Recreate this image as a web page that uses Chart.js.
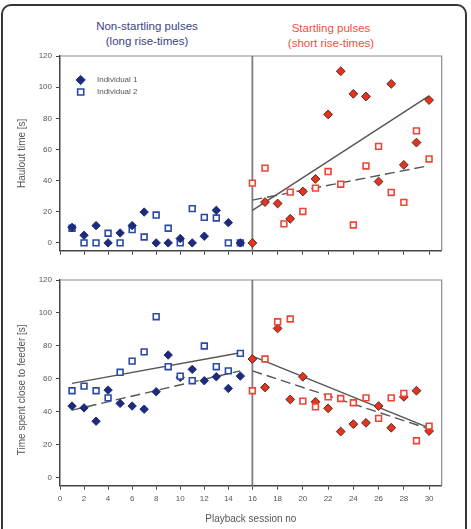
<!DOCTYPE html>
<html>
<head>
<meta charset="utf-8">
<script src="https://cdn.jsdelivr.net/npm/chart.js@4.4.1/dist/chart.umd.min.js"></script>
<style>
    html, body { margin: 0; padding: 0; background: #fff; }
    #wrap { position: relative; width: 471px; height: 529px; overflow: hidden; font-family: "Liberation Sans", Arial, sans-serif; }
    #frame { position: absolute; left: 1px; top: 4px; width: 462px; height: 600px; border: 2px solid #363636; border-radius: 10px; }
    .cap { position: absolute; font-size: 11.5px; line-height: 15px; text-align: center; white-space: nowrap; }
    #capNon { left: 77px; top: 19px; width: 140px; color: #3b3f86; }
    #capStart { left: 261px; top: 21px; width: 140px; color: #f0503c; }
    canvas { position: absolute; left: 0; }
    #haulChart { top: 0; }
    #feedChart { top: 265px; }
</style>
</head>
<body>
<div id="wrap">
    <div id="frame"></div>
    <div class="cap" id="capNon">Non-startling pulses<br>(long rise-times)</div>
    <div class="cap" id="capStart">Startling pulses<br>(short rise-times)</div>
    <canvas id="haulChart" width="471" height="265"></canvas>
    <canvas id="feedChart" width="471" height="264"></canvas>
</div>
<script>
// Playback sessions
const sessionsNon = [1, 2, 3, 4, 5, 6, 7, 8, 9, 10, 11, 12, 13, 14, 15];
const sessionsStart = [16, 17, 18, 19, 20, 21, 22, 23, 24, 25, 26, 27, 28, 29, 30];
const sessionsStartHaulInd2 = [16, 17, 18.5, 19, 20, 21, 22, 23, 24, 25, 26, 27, 28, 29, 30];

// Haulout time [s]
const haulInd1Non = [10.0, 4.9, 11.1, 0, 6.4, 11.1, 19.8, 0, 0, 2.8, 0, 4.3, 20.9, 13.0, 0];
const haulInd2Non = [9.4, 0, 0, 6.2, 0, 8.5, 3.8, 17.9, 9.4, 0, 22.0, 16.4, 16.0, 0, 0];
const haulInd1Start = [0, 26.2, 25.3, 15.5, 33.0, 41.1, 82.5, 110.2, 95.7, 94.0, 39.4, 102.1, 50.1, 64.4, 91.7];
const haulInd2Start = [38.4, 48.0, 12.2, 32.6, 20.2, 35.2, 45.8, 37.7, 11.5, 49.4, 62.0, 32.4, 26.0, 71.9, 53.9];

// Time spent close to feeder [s]
const feedInd1Non = [43.4, 42.3, 34.2, 53.1, 45.0, 43.4, 41.5, 52.1, 74.4, 60.8, 65.7, 58.8, 61.2, 54.1, 61.6];
const feedInd2Non = [52.7, 55.5, 52.7, 48.4, 63.9, 70.7, 76.3, 97.7, 67.3, 61.6, 58.8, 79.9, 67.3, 64.8, 75.4];
const feedInd1Start = [72.0, 54.7, 90.6, 47.4, 61.2, 46.0, 42.0, 27.9, 32.4, 33.2, 43.4, 30.2, 49.0, 52.7, 28.2];
const feedInd2Start = [52.7, 72.0, 94.6, 96.3, 46.4, 42.9, 49.0, 48.0, 45.4, 48.4, 35.9, 48.4, 51.1, 22.3, 31.2];

// Trend lines: [session, value] end points
const haulFitSolid = [[16, 20.9], [30, 94.4]];
const haulFitDashed = [[16, 27.5], [30, 49.6]];
const feedFitSolidNon = [[1, 57.2], [15, 75.8]];
const feedFitDashedNon = [[1, 40.9], [15, 64.8]];
const feedFitSolidStart = [[16, 73.8], [30, 30.2]];
const feedFitDashedStart = [[16, 64.8], [30, 29.5]];

const dividerSession = 16;
const legendLabels = ['Individual 1', 'Individual 2'];

(function() {
    'use strict';

    const FONT = '"Liberation Sans", Arial, sans-serif';
    const AXIS = '#444';
    const TEXT = '#555';
    const SPLIT_FRAC = 0.504;   // session 16 sits a bit left of the middle in the original

    const styles = {
        navy:    { pointStyle: 'rectRot', radius: 4.2, backgroundColor: '#1d2b7a', borderColor: '#1d2b7a', borderWidth: 1 },
        blueBox: { pointStyle: 'rect', radius: 4.1, backgroundColor: '#fff', borderColor: '#2a48a6', borderWidth: 1.6 },
        red:     { pointStyle: 'rectRot', radius: 4.4, backgroundColor: '#e4341f', borderColor: '#5b2a1f', borderWidth: 1 },
        redBox:  { pointStyle: 'rect', radius: 4.1, backgroundColor: '#fff', borderColor: '#ef4434', borderWidth: 1.6 }
    };

    // Piecewise session axis: two segments with slightly different spacing
    class SessionScale extends Chart.LinearScale {
        static id = 'session';
        getPixelForValue(value) {
            const f = value <= 16
                ? (value / 16) * SPLIT_FRAC
                : SPLIT_FRAC + ((value - 16) / 15) * (1 - SPLIT_FRAC);
            return this.left + f * this.width;
        }
        getValueForPixel(pixel) {
            const f = (pixel - this.left) / this.width;
            return f <= SPLIT_FRAC
                ? (f / SPLIT_FRAC) * 16
                : 16 + ((f - SPLIT_FRAC) / (1 - SPLIT_FRAC)) * 15;
        }
    }
    Chart.register(SessionScale);

    function pairs(xs, ys) {
        return xs.map((x, i) => ({ x: x, y: ys[i] }));
    }

    function points(data, style, order) {
        return {
            data: data,
            showLine: false,
            order: order,
            pointStyle: style.pointStyle,
            pointRadius: style.radius,
            pointBackgroundColor: style.backgroundColor,
            pointBorderColor: style.borderColor,
            pointBorderWidth: style.borderWidth
        };
    }

    function line(ends, dashed, order) {
        return {
            data: ends.map(p => ({ x: p[0], y: p[1] })),
            showLine: true,
            order: order,
            pointRadius: 0,
            borderColor: '#555',
            borderWidth: 1.4,
            borderDash: dashed ? [10, 5] : []
        };
    }

    function divider() {
        return {
            data: [{ x: dividerSession, y: -5 }, { x: dividerSession, y: 120 }],
            showLine: true,
            order: 99,
            pointRadius: 0,
            borderColor: '#7d7d7d',
            borderWidth: 1.8
        };
    }

    function xScale(withLabels, height) {
        return {
            type: 'session',
            min: 0,
            max: 31,
            afterBuildTicks: s => { s.ticks = s.ticks.filter(t => t.value % 2 === 0 && t.value <= 30); },
            afterFit: s => { s.height = height; },
            ticks: { stepSize: 2, includeBounds: false, display: withLabels, autoSkip: false, maxRotation: 0,
                     padding: 4.5, color: TEXT, font: { size: 8, family: FONT } },
            grid: { drawOnChartArea: false, drawTicks: true, tickLength: 4, tickColor: AXIS, tickWidth: 1 },
            border: { color: AXIS, width: 1.5 },
            title: { display: withLabels, text: 'Playback session no', color: TEXT,
                     font: { size: 10, family: FONT }, padding: { top: 0, bottom: 4 } }
        };
    }

    function yScale(title) {
        return {
            min: -5,
            max: 120,
            afterBuildTicks: s => { s.ticks = s.ticks.filter(t => t.value >= 0 && t.value % 20 === 0); },
            afterFit: s => { s.width = 60; },
            ticks: { stepSize: 20, includeBounds: false, padding: 4, color: TEXT, font: { size: 8, family: FONT } },
            grid: { drawOnChartArea: false, drawTicks: true, tickLength: 4, tickColor: AXIS, tickWidth: 1 },
            border: { color: AXIS, width: 1.5 },
            title: { display: true, text: title, color: TEXT, font: { size: 10, family: FONT },
                     padding: { top: 16.5, bottom: 0 } }
        };
    }

    // Thin grey top and right edges of the plot box
    const boxEdges = {
        id: 'boxEdges',
        beforeDatasetsDraw(chart) {
            const a = chart.chartArea;
            const ctx = chart.ctx;
            ctx.save();
            ctx.strokeStyle = '#8a8a8a';
            ctx.lineWidth = 1.2;
            ctx.beginPath();
            ctx.moveTo(a.left, a.top);
            ctx.lineTo(a.right, a.top);
            ctx.lineTo(a.right, a.bottom);
            ctx.stroke();
            ctx.restore();
        }
    };

    // Legend drawn inside the plot area, as in the original
    const innerLegend = {
        id: 'innerLegend',
        afterDatasetsDraw(chart) {
            const a = chart.chartArea;
            const ctx = chart.ctx;
            const marks = [styles.navy, styles.blueBox];
            ctx.save();
            marks.forEach((st, i) => {
                const y = a.top + 24 + i * 12;
                ctx.fillStyle = st.backgroundColor;
                ctx.strokeStyle = st.borderColor;
                ctx.lineWidth = st.borderWidth;
                Chart.helpers.drawPoint(ctx, {
                    pointStyle: st.pointStyle,
                    radius: st.pointStyle === 'rect' ? 4.3 : 4.6,
                    rotation: 0,
                    borderWidth: st.borderWidth
                }, a.left + 20.7, y);
                ctx.fillStyle = TEXT;
                ctx.font = '8px ' + FONT;
                ctx.textBaseline = 'middle';
                ctx.textAlign = 'left';
                ctx.fillText(legendLabels[i], a.left + 37, y);
            });
            ctx.restore();
        }
    };

    function baseOptions(layoutTop, xHeight, withLabels, title) {
        return {
            responsive: false,
            animation: false,
            layout: { padding: { top: layoutTop, right: 29.3, left: 0, bottom: 0 } },
            plugins: { legend: { display: false }, tooltip: { enabled: false } },
            scales: { x: xScale(withLabels, xHeight), y: yScale(title) }
        };
    }

    new Chart(document.getElementById('haulChart'), {
        type: 'scatter',
        data: {
            datasets: [
                points(pairs(sessionsStart, haulInd1Start), styles.red, 1),
                points(pairs(sessionsStartHaulInd2, haulInd2Start), styles.redBox, 2),
                points(pairs(sessionsNon, haulInd1Non), styles.navy, 3),
                points(pairs(sessionsNon, haulInd2Non), styles.blueBox, 4),
                line(haulFitSolid, false, 10),
                line(haulFitDashed, true, 11),
                divider()
            ]
        },
        options: baseOptions(56, 14.3, false, 'Haulout time [s]'),
        plugins: [boxEdges, innerLegend]
    });

    // trailing spaces nudge the rotated title down, as in the original
    new Chart(document.getElementById('feedChart'), {
        type: 'scatter',
        data: {
            datasets: [
                points(pairs(sessionsStart, feedInd1Start), styles.red, 2),
                points(pairs(sessionsStart, feedInd2Start), styles.redBox, 1),
                points(pairs(sessionsNon, feedInd1Non), styles.navy, 4),
                points(pairs(sessionsNon, feedInd2Non), styles.blueBox, 3),
                line(feedFitSolidNon, false, 10),
                line(feedFitDashedNon, true, 11),
                line(feedFitSolidStart, false, 12),
                line(feedFitDashedStart, true, 13),
                divider()
            ]
        },
        options: baseOptions(15, 43.3, true, 'Time spent close to feeder [s]\u00a0\u00a0\u00a0\u00a0\u00a0'),
        plugins: [boxEdges]
    });
})();
</script>
</body>
</html>
